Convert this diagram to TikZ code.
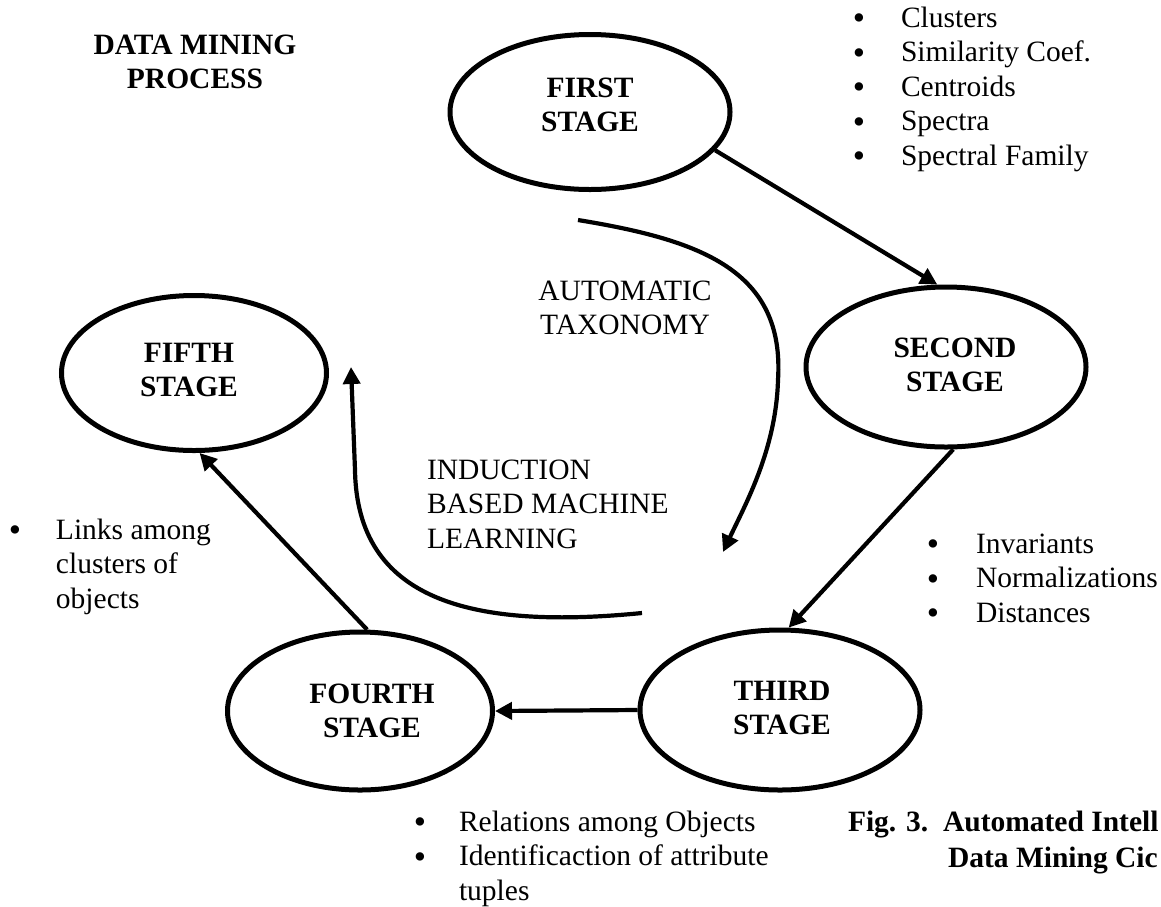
\documentclass[tikz,border=0pt]{standalone}
\usepackage{fontspec}
\setmainfont{Liberation Serif}
\usetikzlibrary{arrows.meta,shapes.geometric}
% a round list bullet in a 12pt wide box
\newcommand\blt{\makebox[12pt][c]{\smash{\raisebox{-2.5pt}{\fontsize{35}{35}\selectfont\textbullet}}}}
\begin{document}
\begin{tikzpicture}[x=1pt,y=-1pt,
  stage/.style={draw, ellipse, line width=5pt, inner sep=0pt},
  conn/.style={line width=4.2pt, -{Triangle[length=17pt,width=17pt]}},
  txt/.style={inner sep=0pt, outer sep=0pt, font=\fontsize{29.5}{34.5}\selectfont},
  btxt/.style={inner sep=0pt, outer sep=0pt, font=\fontsize{29.5}{34.5}\selectfont\bfseries},
]
\useasboundingbox (0,0) rectangle (1161,906);
\fill[white] (0,0) rectangle (1161,906);
\clip (0,0) rectangle (1161,906);

% title
\node[btxt, anchor=base] (title) at (195,54)
  {\begin{tabular}[t]{@{}c@{}}DATA MINING\\PROCESS\end{tabular}};

% the five stages
\node[stage, minimum width=280pt, minimum height=155pt] (s1) at (590,112) {};
\node[stage, minimum width=280pt, minimum height=160pt] (s2) at (946,367) {};
\node[stage, minimum width=280pt, minimum height=160pt] (s3) at (780,710) {};
\node[stage, minimum width=265pt, minimum height=158pt] (s4) at (360,711) {};
\node[stage, minimum width=265pt, minimum height=155pt] (s5) at (194,373) {};

\node[btxt, anchor=base] (s1t) at (590,97)
  {\begin{tabular}[t]{@{}c@{}}FIRST\\STAGE\end{tabular}};
\node[btxt, anchor=base] (s2t) at (955,357)
  {\begin{tabular}[t]{@{}c@{}}SECOND\\STAGE\end{tabular}};
\node[btxt, anchor=base] (s3t) at (782,700)
  {\begin{tabular}[t]{@{}c@{}}THIRD\\STAGE\end{tabular}};
\node[btxt, anchor=base] (s4t) at (372,703)
  {\begin{tabular}[t]{@{}c@{}}FOURTH\\STAGE\end{tabular}};
\node[btxt, anchor=base] (s5t) at (189,362)
  {\begin{tabular}[t]{@{}c@{}}FIFTH\\STAGE\end{tabular}};

% connectors between stages
\draw[conn] (s1.-17) -- (s2.96);
\draw[conn] (s2.-85) -- (s3.84);
\draw[conn] (s3.west) -- (s4.east);
\draw[conn] (s4.85) -- (s5.-86);

% inner curved arrows
\coordinate (c1s) at (578,220);
\coordinate (c1m) at (778,380);
\coordinate (c1e) at (723,552);
\draw[conn] (c1s) .. controls (700,240) and (785,270) .. (c1m)
  .. controls (776,450) and (745,505) .. (c1e);

\coordinate (c2s) at (642,613);
\coordinate (c2m) at (355,470);
\coordinate (c2e) at (351,367);
\draw[conn] (c2s) .. controls (470,630) and (357,600) .. (c2m) -- (c2e);

\node[txt, anchor=base] (auto) at (625,300)
  {\begin{tabular}[t]{@{}c@{}}AUTOMATIC\\TAXONOMY\end{tabular}};
\node[txt, anchor=base west] (induct) at (427,479)
  {\begin{tabular}[t]{@{}l@{}}INDUCTION\\BASED MACHINE\\LEARNING\end{tabular}};

% bullet lists
\node[txt, anchor=base west] (l1) at (853,27)
  {\begin{tabular}[t]{@{}l@{\hspace{36pt}}l@{}}
   \blt & Clusters\\
   \blt & Similarity Coef.\\
   \blt & Centroids\\
   \blt & Spectra\\
   \blt & Spectral Family
   \end{tabular}};
\node[txt, anchor=base west] (l2) at (927,553)
  {\begin{tabular}[t]{@{}l@{\hspace{37pt}}l@{}}
   \blt & Invariants\\
   \blt & Normalizations\\
   \blt & Distances
   \end{tabular}};
\node[txt, anchor=base west] (l3) at (9,539)
  {\begin{tabular}[t]{@{}l@{\hspace{35pt}}l@{}}
   \blt & Links among\\
        & clusters of\\
        & objects
   \end{tabular}};
\node[txt, anchor=base west] (l4) at (414,831)
  {\begin{tabular}[t]{@{}l@{\hspace{33pt}}l@{}}
   \blt & Relations among Objects\\
   \blt & Identificaction of attribute\\
        & tuples
   \end{tabular}};

% caption
\node[btxt, anchor=base west] (cap1) at (848,831) {Fig. 3.\ \ Automated Intell};
\node[btxt, anchor=base west] (cap2) at (948,867) {Data Mining Cic};
\end{tikzpicture}
\end{document}
